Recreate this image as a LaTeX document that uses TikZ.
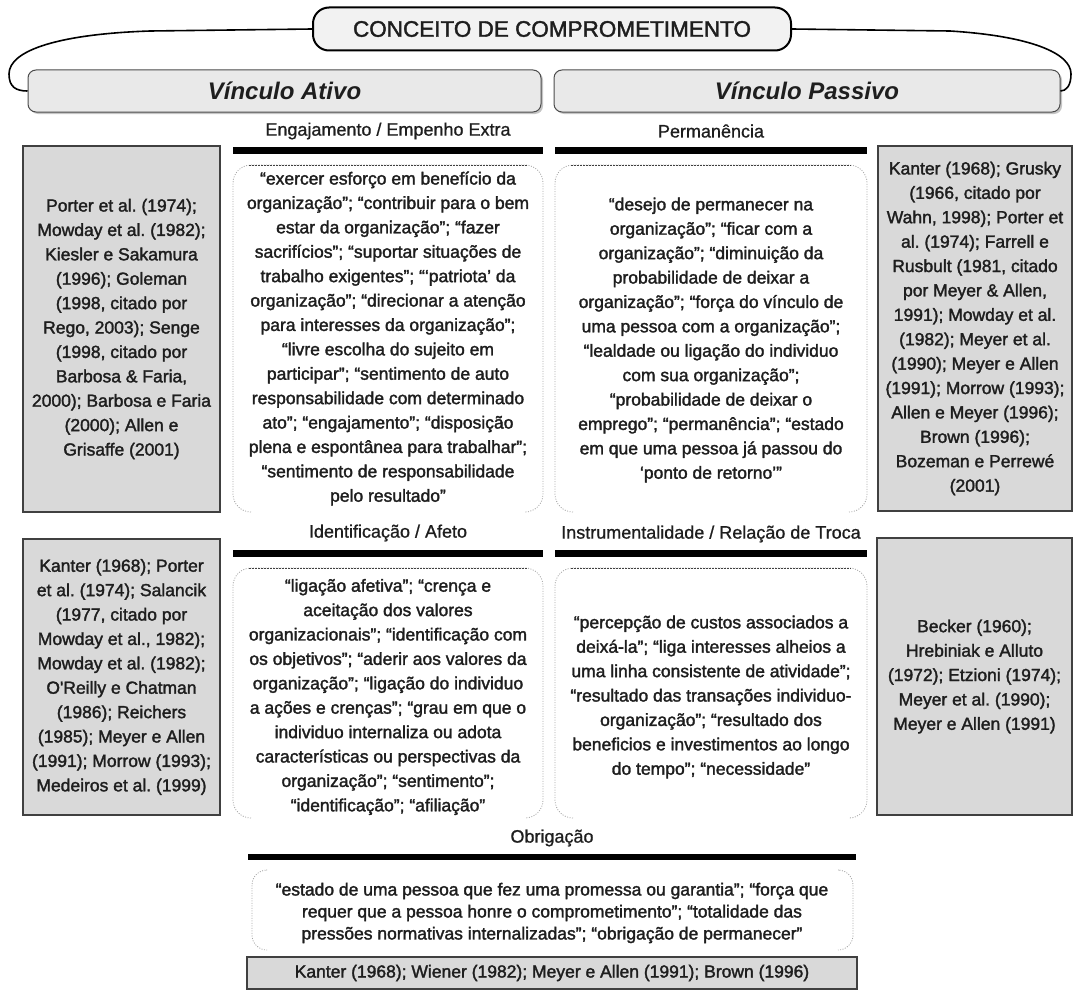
\documentclass[tikz,border=0pt]{standalone}
\usepackage{fontspec}
\setmainfont{Liberation Sans}
\newfontfamily\heavyfont{Liberation Sans}[FakeBold=1.8]
\newfontfamily\midfont{Liberation Sans}[FakeBold=0.9]
\usetikzlibrary{shadows}
\definecolor{refgray}{HTML}{D9D9D9}
\definecolor{boxgray}{HTML}{E9E9E9}
\definecolor{ink}{HTML}{1E1E1E}
\newcommand\qframe[4]{%
  \draw[qside, rounded corners=18pt] ({#1+18},#4) -- (#1,#4) -- (#1,#2) -- (#3,#2) -- (#3,#4) -- ({#3-18},#4);
  \draw[qtop] ({#1+16},#2) -- ({#3-16},#2);
}
\frenchspacing
\begin{document}
\begin{tikzpicture}[x=1pt,y=-1pt,
  body/.style={font=\heavyfont\fontsize{17.5}{24.4}\selectfont, text=ink, align=center, inner sep=0pt},
  head/.style={font=\midfont\fontsize{18}{22}\selectfont, text=ink, inner sep=0pt},
  refbox/.style={draw=black!75, line width=1.8pt, fill=refgray,
     drop shadow={shadow xshift=1.2pt, shadow yshift=-1.2pt, fill=black!60},
     font=\heavyfont\fontsize{17.5}{24.4}\selectfont, text=ink, align=center, inner sep=0pt},
  vbox/.style={draw=black!70, line width=1pt, fill=boxgray, rounded corners=8pt,
     drop shadow={shadow xshift=2pt, shadow yshift=-2pt, fill=black!45},
     font=\fontsize{24}{28}\selectfont\bfseries\itshape, text=ink},
  titlebox/.style={draw=black, line width=2pt, fill=black!5, rounded corners=16pt,
     font=\heavyfont\fontsize{22.5}{26}\selectfont, text=ink},
  bar/.style={line width=7pt, draw=black},
  qside/.style={draw=black!35, line width=0.8pt, dash pattern=on 1pt off 1.5pt},
  qtop/.style={draw=black!75, line width=1pt, dash pattern=on 2pt off 1pt},
  link/.style={draw=black, line width=1.6pt},
]
\useasboundingbox (0,0) rectangle (1073,990);

% title and main boxes
\node[titlebox, minimum width=478pt, minimum height=43pt] (title) at (552,29) {CONCEITO DE COMPROMETIMENTO};
\node[vbox, minimum width=513pt, minimum height=42pt] (ativo) at (284.5,91) {Vínculo Ativo};
\node[vbox, minimum width=506pt, minimum height=42pt] (passivo) at (807,91) {Vínculo Passivo};

\draw[link] (title.west) -- (150,31) .. controls (60,34) and (9,50) .. (9,74) .. controls (9,87) and (16,91) .. (ativo.west);
\draw[link] (title.east) -- (950,31) .. controls (1030,36) and (1071,53) .. (1071,74) .. controls (1071,86) and (1066,91) .. (passivo.east);

% headers
\node[head] (h1) at (388,131) {Engajamento / Empenho Extra};
\node[head] (h2) at (711,131) {Permanência};
\node[head] (h3) at (388,533) {Identificação / Afeto};
\node[head] (h4) at (711,534) {Instrumentalidade / Relação de Troca};
\node[head] (h5) at (552,838) {Obrigação};

% bars
\draw[bar] (233,150.5) -- (543,150.5);
\draw[bar] (555,150.5) -- (867,150.5);
\draw[bar] (233,553.5) -- (543,553.5);
\draw[bar] (555,553.5) -- (867,553.5);
\draw[line width=6pt] (248,857) -- (856,857);

% quote frames
\qframe{233}{165}{543}{512}
\qframe{555}{165}{867}{512}
\qframe{233}{568}{543}{818}
\qframe{555}{568}{867}{818}
\draw[qside, rounded corners=15pt] (266,870) -- (252,870) -- (252,950) -- (266,950);
\draw[qside, rounded corners=15pt] (839,870) -- (853,870) -- (853,950) -- (839,950);

% reference boxes
\node[refbox, minimum width=197pt, minimum height=366pt] (r1) at (121.5,329)
 {Porter et al. (1974);\\Mowday et al. (1982);\\Kiesler e Sakamura\\(1996); Goleman\\(1998, citado por\\Rego, 2003); Senge\\(1998, citado por\\Barbosa \& Faria,\\2000); Barbosa e Faria\\(2000); Allen e\\Grisaffe (2001)};
\node[refbox, minimum width=197pt, minimum height=276pt] (r2) at (121.5,677)
 {Kanter (1968); Porter\\et al. (1974); Salancik\\(1977, citado por\\Mowday et al., 1982);\\Mowday et al. (1982);\\O'Reilly e Chatman\\(1986); Reichers\\(1985); Meyer e Allen\\(1991); Morrow (1993);\\Medeiros et al. (1999)};
\node[refbox, minimum width=194pt, minimum height=365pt] (r3) at (975,328.5)
 {Kanter (1968); Grusky\\(1966, citado por\\Wahn, 1998); Porter et\\al. (1974); Farrell e\\Rusbult (1981, citado\\por Meyer \& Allen,\\1991); Mowday et al.\\(1982); Meyer et al.\\(1990); Meyer e Allen\\(1991); Morrow (1993);\\Allen e Meyer (1996);\\Brown (1996);\\Bozeman e Perrewé\\(2001)};
\node[refbox, minimum width=195pt, minimum height=277pt] (r4) at (974.5,676.5)
 {Becker (1960);\\Hrebiniak e Alluto\\(1972); Etzioni (1974);\\Meyer et al. (1990);\\Meyer e Allen (1991)};
\node[refbox, minimum width=610pt, minimum height=32pt] (r5) at (552,973)
 {Kanter (1968); Wiener (1982); Meyer e Allen (1991); Brown (1996)};

% quote texts
\node[body] (q1) at (388,338.5)
 {“exercer esforço em benefício da\\organização”; “contribuir para o bem\\estar da organização”; “fazer\\sacrifícios”; “suportar situações de\\trabalho exigentes”; “‘patriota’ da\\organização”; “direcionar a atenção\\para interesses da organização”;\\“livre escolha do sujeito em\\participar”; “sentimento de auto\\responsabilidade com determinado\\ato”; “engajamento”; “disposição\\plena e espontânea para trabalhar”;\\“sentimento de responsabilidade\\pelo resultado”};
\node[body] (q2) at (711,340)
 {“desejo de permanecer na\\organização”; “ficar com a\\organização”; “diminuição da\\probabilidade de deixar a\\organização”; “força do vínculo de\\uma pessoa com a organização”;\\“lealdade ou ligação do individuo\\com sua organização”;\\“probabilidade de deixar o\\emprego”; “permanência”; “estado\\em que uma pessoa já passou do\\‘ponto de retorno’”};
\node[body] (q3) at (388,697)
 {“ligação afetiva”; “crença e\\aceitação dos valores\\organizacionais”; “identificação com\\os objetivos”; “aderir aos valores da\\organização”; “ligação do individuo\\a ações e crenças”; “grau em que o\\individuo internaliza ou adota\\características ou perspectivas da\\organização”; “sentimento”;\\“identificação”; “afiliação”};
\node[body] (q4) at (711,697)
 {“percepção de custos associados a\\deixá-la”; “liga interesses alheios a\\uma linha consistente de atividade”;\\“resultado das transações individuo-\\organização”; “resultado dos\\beneficios e investimentos ao longo\\do tempo”; “necessidade”};
\node[body, font=\heavyfont\fontsize{17.5}{22}\selectfont] (q5) at (552,913)
 {“estado de uma pessoa que fez uma promessa ou garantia”; “força que\\requer que a pessoa honre o comprometimento”; “totalidade das\\pressões normativas internalizadas”; “obrigação de permanecer”};
\end{tikzpicture}
\end{document}
